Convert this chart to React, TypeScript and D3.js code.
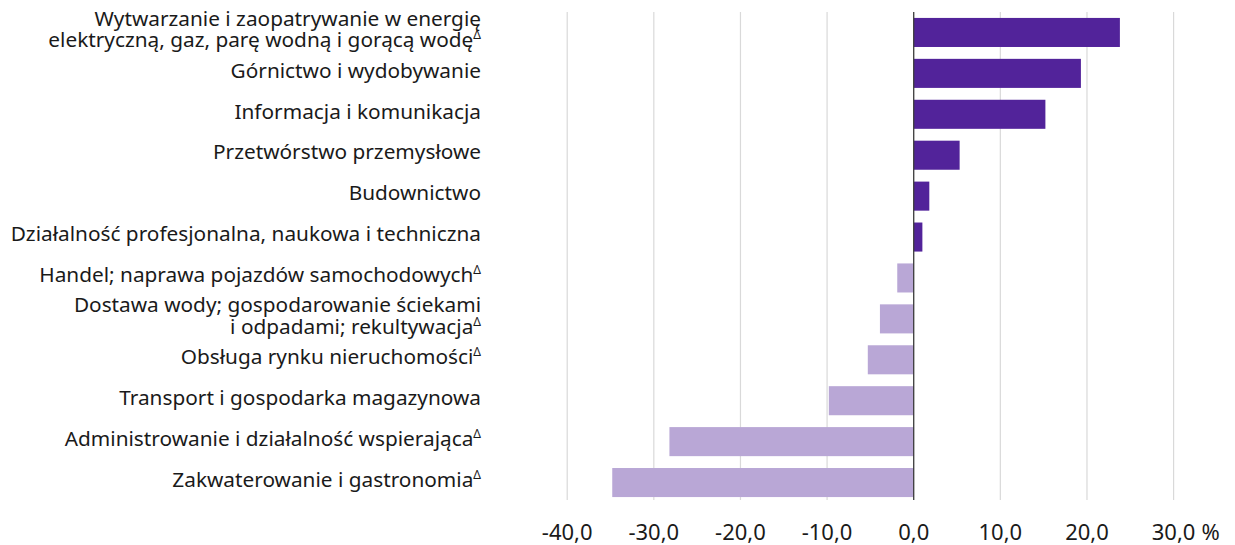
import React, { useEffect, useRef } from "react";
import * as d3 from "d3";

// categories (top to bottom), lines split where the label wraps
const categories: string[][] = [
  ["Wytwarzanie i zaopatrywanie w energię", "elektryczną, gaz, parę wodną i gorącą wodę"],
  ["Górnictwo i wydobywanie"],
  ["Informacja i komunikacja"],
  ["Przetwórstwo przemysłowe"],
  ["Budownictwo"],
  ["Działalność profesjonalna, naukowa i techniczna"],
  ["Handel; naprawa pojazdów samochodowych"],
  ["Dostawa wody; gospodarowanie ściekami", "i odpadami; rekultywacja"],
  ["Obsługa rynku nieruchomości"],
  ["Transport i gospodarka magazynowa"],
  ["Administrowanie i działalność wspierająca"],
  ["Zakwaterowanie i gastronomia"],
];
const flagged: boolean[] = [true, false, false, false, false, false, true, true, true, false, true, true];
const values: number[] = [23.8, 19.3, 15.2, 5.3, 1.8, 1.0, -1.9, -3.9, -5.3, -9.8, -28.2, -34.8];
const ticks: number[] = [-40, -30, -20, -10, 0, 10, 20, 30];

const W = 1235;
const H = 545;
const FONT = "'Noto Sans', sans-serif";

export default function App() {
  const svgRef = useRef<SVGSVGElement>(null);

  useEffect(() => {
    if (!svgRef.current) return;
    const svg = d3.select(svgRef.current);
    svg.selectAll("*").remove();

    const x = d3.scaleLinear().domain([-40, 30]).range([567.2, 1173.6]);
    const y = d3
      .scaleBand<number>()
      .domain(d3.range(values.length))
      .range([12, 503])
      .paddingInner(0.29)
      .paddingOuter(0.145);

    // gridlines
    svg
      .append("g")
      .selectAll("line")
      .data(ticks.filter((t) => t !== 0))
      .enter()
      .append("line")
      .attr("x1", (d) => x(d))
      .attr("x2", (d) => x(d))
      .attr("y1", 12)
      .attr("y2", 500)
      .attr("stroke", "#d9d9d9")
      .attr("stroke-width", 1.2);

    // bars
    svg
      .append("g")
      .selectAll("rect")
      .data(values)
      .enter()
      .append("rect")
      .attr("x", (d) => x(Math.min(0, d)))
      .attr("width", (d) => Math.abs(x(d) - x(0)))
      .attr("y", (_, i) => y(i)!)
      .attr("height", y.bandwidth())
      .attr("fill", (d) => (d >= 0 ? "#52239a" : "#b9a7d6"));

    // zero line
    svg
      .append("line")
      .attr("x1", x(0))
      .attr("x2", x(0))
      .attr("y1", 12)
      .attr("y2", 500)
      .attr("stroke", "#3a3a3a")
      .attr("stroke-width", 1.3);

    // category labels, one text per category, lines as tspans
    const labels = svg
      .append("g")
      .attr("font-family", FONT)
      .attr("font-size", 20.8)
      .attr("fill", "#1a1a1a")
      .attr("text-anchor", "end");

    const lh = 21.5;
    categories.forEach((lines, i) => {
      const cy = y(i)! + y.bandwidth() / 2 - 3;
      const start = cy - ((lines.length - 1) * lh) / 2;
      const t = labels.append("text").attr("y", start);
      lines.forEach((line, j) => {
        t.append("tspan")
          .attr("x", 481)
          .attr("dy", j === 0 ? "0.35em" : lh)
          .text(line);
        if (flagged[i] && j === lines.length - 1) {
          t.append("tspan").attr("font-size", 12).attr("dy", -8).text("Δ");
        }
      });
    });

    // axis tick labels
    const fmt = (v: number) => v.toFixed(1).replace(".", ",");
    svg
      .append("g")
      .attr("font-family", FONT)
      .attr("font-size", 22)
      .attr("fill", "#1a1a1a")
      .attr("text-anchor", "middle")
      .selectAll("text")
      .data(ticks)
      .enter()
      .append("text")
      .attr("x", (d) => x(d))
      .attr("y", 539.5)
      .text((d) => fmt(d));

    svg
      .append("text")
      .attr("x", x(30) + 28)
      .attr("y", 539.5)
      .attr("font-family", FONT)
      .attr("font-size", 22)
      .attr("fill", "#1a1a1a")
      .text("%");
  }, []);

  return (
    <svg
      ref={svgRef}
      width={W}
      height={H}
      style={{ position: "absolute", left: 0, top: 0, background: "#fff" }}
    ></svg>
  );
}
